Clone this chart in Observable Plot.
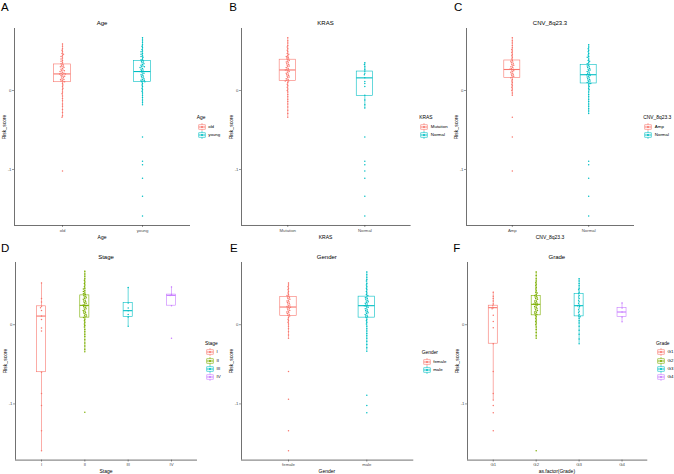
<!DOCTYPE html>
<html><head><meta charset="utf-8">
<script src="https://cdn.jsdelivr.net/npm/d3@7"></script>
<script src="https://cdn.jsdelivr.net/npm/@observablehq/plot@0.6"></script>
<style>
body{margin:0;background:#fff;}
#fig{position:relative;width:674px;height:474px;overflow:hidden;font-family:"Liberation Sans",Arial,sans-serif;background:#fff;}
.t{position:absolute;white-space:nowrap;line-height:1;color:#000;}
.p{position:absolute;}
</style></head><body><div id="fig"></div>
<script>
// ---------- colours ----------
const hue2 = ["#F8766D", "#00BFC4"];
const hue4 = ["#F8766D", "#7CAE00", "#00BFC4", "#C77CFF"];
const yTicks = [-1, 0];

// ---------- A: Age ----------
const ageCats = ["old", "young"];
const ageOld = [0.59,0.56,0.53,0.51,0.49,0.47,0.46,0.44,0.43,0.41,0.40,0.38,0.37,0.35,0.34,
  0.33,0.32,0.31,0.30,0.30,0.29,0.28,0.27,0.26,0.25,0.25,0.24,0.23,0.22,0.22,0.21,0.21,0.20,0.19,0.18,0.18,0.17,0.16,0.15,0.14,0.14,0.13,0.12,0.11,0.11,
  0.09,0.07,0.05,0.03,0.01,-0.02,-0.04,-0.07,-0.10,-0.13,-0.17,-0.20,-0.24,-0.28,-0.32,-0.34,-1.02];
const ageYoung = [0.667,0.64,0.61,0.58,0.56,0.54,0.52,0.50,0.49,0.47,0.46,0.44,0.43,0.42,0.40,0.39,0.38,
  0.37,0.36,0.35,0.34,0.33,0.32,0.31,0.30,0.30,0.29,0.28,0.27,0.26,0.25,0.24,0.24,0.23,0.22,0.21,0.20,0.19,0.18,0.17,0.16,0.15,0.14,0.13,0.13,0.12,0.11,0.11,
  0.09,0.07,0.05,0.03,0.01,-0.01,-0.03,-0.06,-0.09,-0.12,-0.15,-0.18,
  -0.59,-0.895,-0.94,-1.11,-1.34,-1.59];
const ageQ1 = [0.105, 0.11], ageMed = [0.21, 0.24], ageQ3 = [0.33, 0.375], ageLo = [-0.34, -0.18], ageHi = [0.59, 0.667];

// ---------- B: KRAS ----------
const krasCats = ["Mutation", "Normal"];
const krasMut = [0.667,0.63,0.60,0.57,0.55,0.53,0.51,0.49,0.47,0.46,0.44,0.43,0.42,0.41,0.40,
  0.39,0.38,0.37,0.36,0.35,0.34,0.33,0.32,0.31,0.30,0.29,0.28,0.27,0.26,0.26,0.25,0.24,0.23,0.22,0.21,0.20,0.19,0.18,0.17,0.16,0.15,0.14,0.13,0.12,0.12,
  0.10,0.08,0.06,0.04,0.02,0.00,-0.02,-0.05,-0.08,-0.11,-0.14,-0.17,-0.21,-0.25,-0.29,-0.34];
const krasNorm = [0.35,0.33,0.30,0.27,0.245,0.22,0.20,0.16,0.115,0.09,0.05,-0.06,-0.12,-0.18,-0.22,
  -0.59,-0.895,-0.94,-1.02,-1.11,-1.34,-1.59];
const krasQ1 = [0.12, -0.07], krasMed = [0.26, 0.16], krasQ3 = [0.39, 0.24], krasLo = [-0.34, -0.23], krasHi = [0.667, 0.35];

// ---------- C: CNV_8q23.3 ----------
const cnvCats = ["Amp", "Normal"];
const cnvAmp = [0.667,0.63,0.60,0.57,0.54,0.52,0.50,0.48,0.46,0.44,0.42,0.40,
  0.38,0.37,0.36,0.35,0.34,0.33,0.32,0.31,0.30,0.29,0.28,0.27,0.27,0.26,0.25,0.24,0.23,0.22,0.21,0.20,0.19,0.18,0.17,0.16,
  0.14,0.12,0.10,0.08,0.06,0.04,0.02,0.00,-0.03,-0.06,-0.34,-0.59,-1.02];
const cnvNorm = [0.58,0.55,0.53,0.51,0.49,0.47,0.45,0.43,0.42,0.40,0.38,0.37,0.35,0.34,
  0.32,0.31,0.30,0.29,0.28,0.27,0.26,0.25,0.24,0.23,0.22,0.21,0.20,0.20,0.19,0.18,0.17,0.16,0.15,0.14,0.13,0.12,0.11,0.10,0.09,0.09,
  0.07,0.05,0.03,0.01,-0.02,-0.05,-0.08,-0.11,-0.14,-0.17,-0.20,-0.23,-0.26,-0.29,
  -0.895,-0.94,-1.11,-1.34,-1.59];
const cnvQ1 = [0.156, 0.089], cnvMed = [0.266, 0.20], cnvQ3 = [0.38, 0.325], cnvLo = [-0.063, -0.29], cnvHi = [0.667, 0.58];

// ---------- D: Stage ----------
const stageCats = ["I", "II", "III", "IV"];
const stageI = [0.527,0.33,0.286,0.232,0.215,0.18,0.109,0.067,-0.043,-0.08,-0.60,-0.87,-1.02,-1.34,-1.59];
const stageII = [0.675,0.64,0.61,0.58,0.56,0.54,0.52,0.50,0.48,0.46,0.45,0.43,0.42,0.40,0.39,0.38,
  0.37,0.36,0.35,0.34,0.33,0.32,0.31,0.30,0.29,0.28,0.27,0.26,0.25,0.24,0.24,0.23,0.22,0.21,0.20,0.19,0.18,0.17,0.16,0.15,0.14,0.13,0.12,0.11,0.10,0.09,
  0.07,0.05,0.03,0.01,-0.01,-0.03,-0.06,-0.09,-0.12,-0.15,-0.19,-0.23,-0.27,-0.31,-0.34,-1.106];
const stageIII = [0.468,0.273,0.21,0.177,0.13,0.097,-0.02];
const stageIV = [0.476,0.38,0.37,0.24,-0.17];
const stageQ1 = [-0.60, 0.089, 0.097, 0.24], stageMed = [0.109, 0.244, 0.177, 0.37], stageQ3 = [0.232, 0.37, 0.273, 0.38];
const stageLo = [-1.59, -0.34, -0.02, 0.24], stageHi = [0.527, 0.675, 0.468, 0.476];

// ---------- E: Gender ----------
const genderCats = ["female", "male"];
const genderF = [0.527,0.50,0.48,0.46,0.44,0.42,0.40,0.38,0.37,0.36,
  0.35,0.34,0.33,0.32,0.31,0.30,0.29,0.28,0.27,0.26,0.25,0.24,0.23,0.22,0.22,0.21,0.20,0.19,0.18,0.17,0.16,0.15,0.14,0.13,0.12,0.11,
  0.09,0.07,0.05,0.03,0.01,-0.02,-0.05,-0.09,-0.13,-0.17,-0.59,-0.94,-1.34,-1.59];
const genderM = [0.666,0.63,0.60,0.57,0.55,0.52,0.50,0.48,0.46,0.44,0.42,0.40,0.38,0.37,
  0.35,0.34,0.33,0.32,0.31,0.30,0.29,0.28,0.27,0.26,0.25,0.24,0.24,0.23,0.22,0.21,0.20,0.19,0.18,0.17,0.16,0.15,0.14,0.13,0.12,0.11,0.10,0.09,
  0.07,0.05,0.03,0.01,-0.02,-0.05,-0.08,-0.11,-0.14,-0.17,-0.21,-0.25,-0.29,-0.334,-0.89,-1.02,-1.11];
const genderQ1 = [0.109, 0.089], genderMed = [0.223, 0.24], genderQ3 = [0.35, 0.354], genderLo = [-0.17, -0.334], genderHi = [0.527, 0.666];

// ---------- F: Grade ----------
const gradeCats = ["G1", "G2", "G3", "G4"];
const gradeG1 = [0.41,0.36,0.33,0.30,0.26,0.24,0.215,0.20,0.12,0.04,-0.04,-0.24,-0.59,-0.87,-0.95,-1.02,-1.11,-1.34];
const gradeG2 = [0.666,0.62,0.58,0.55,0.53,0.51,0.49,0.47,0.45,0.43,0.41,0.40,0.38,0.37,
  0.36,0.35,0.34,0.33,0.32,0.31,0.30,0.29,0.28,0.27,0.26,0.26,0.25,0.24,0.23,0.22,0.21,0.20,0.19,0.18,0.17,0.16,0.15,0.14,0.13,0.12,
  0.10,0.08,0.06,0.04,0.02,0.00,-0.03,-0.06,-0.10,-0.14,-0.17,-1.59];
const gradeG3 = [0.58,0.55,0.52,0.49,0.46,0.44,0.41,0.39,0.37,0.35,0.33,0.31,0.29,0.27,0.25,0.24,0.23,0.21,0.19,0.17,0.15,0.13,0.11,0.10,0.08,0.05,0.02,-0.02,-0.07,-0.12,-0.18,-0.24];
const gradeG4 = [0.273,0.21,0.16,0.096,0.038];
const gradeQ1 = [-0.24, 0.118, 0.105, 0.096], gradeMed = [0.215, 0.257, 0.24, 0.16], gradeQ3 = [0.24, 0.363, 0.39, 0.21];
const gradeLo = [-0.95, -0.17, -0.24, 0.038], gradeHi = [0.41, 0.666, 0.58, 0.273];

// ---------- layout ----------
const yDomain = [-1.709, 0.785];
const panels = [
  {letter:"A", lx:1, ly:7.9, title:"Age", xTitle:"Age", cats:ageCats, groups:[ageOld, ageYoung], q1:ageQ1, med:ageMed, q3:ageQ3, lo:ageLo, hi:ageHi, colors:hue2,
   x0:14, x1:190, y0:28, y1:225, legX:196.7, legTitleY:117.7, legRowY:[126.8, 135]},
  {letter:"B", lx:229.3, ly:7.9, title:"KRAS", xTitle:"KRAS", cats:krasCats, groups:[krasMut, krasNorm], q1:krasQ1, med:krasMed, q3:krasQ3, lo:krasLo, hi:krasHi, colors:hue2,
   x0:240.7, x1:410.3, y0:28, y1:225, legX:419.3, legTitleY:117.7, legRowY:[126.8, 135]},
  {letter:"C", lx:454, ly:7.9, title:"CNV_8q23.3", xTitle:"CNV_8q23.3", cats:cnvCats, groups:[cnvAmp, cnvNorm], q1:cnvQ1, med:cnvMed, q3:cnvQ3, lo:cnvLo, hi:cnvHi, colors:hue2,
   x0:466, x1:634, y0:28, y1:225, legX:643.3, legTitleY:117.7, legRowY:[126.8, 135]},
  {letter:"D", lx:1, ly:249.2, title:"Stage", xTitle:"Stage", cats:stageCats, groups:[stageI, stageII, stageIII, stageIV], q1:stageQ1, med:stageMed, q3:stageQ3, lo:stageLo, hi:stageHi, colors:hue4,
   x0:15, x1:197, y0:261.7, y1:459.3, legX:205, legTitleY:344.3, legRowY:[352.3, 360.5, 368.6, 376.7]},
  {letter:"E", lx:230, ly:249.2, title:"Gender", xTitle:"Gender", cats:genderCats, groups:[genderF, genderM], q1:genderQ1, med:genderMed, q3:genderQ3, lo:genderLo, hi:genderHi, colors:hue2,
   x0:240.7, x1:413, y0:261.7, y1:459.3, legX:421.7, legTitleY:352.7, legRowY:[361.5, 369.5]},
  {letter:"F", lx:453.3, ly:249.2, title:"Grade", xTitle:"as.factor(Grade)", cats:gradeCats, groups:[gradeG1, gradeG2, gradeG3, gradeG4], q1:gradeQ1, med:gradeMed, q3:gradeQ3, lo:gradeLo, hi:gradeHi, colors:hue4,
   x0:466.7, x1:647, y0:261.7, y1:459.3, legX:656, legTitleY:344.3, legRowY:[352.3, 360.5, 368.6, 376.7]}
];

const fig = document.getElementById("fig");
function txt(s, x, y, size, opts = {}) {
  const d = document.createElement("div");
  d.className = "t";
  d.textContent = s;
  d.style.left = x + "px";
  d.style.top = y + "px";
  d.style.fontSize = size + "px";
  d.style.transform = opts.transform || (opts.center ? "translate(-50%,-50%)" : "translate(0,-50%)");
  if (opts.color) d.style.color = opts.color;
  fig.appendChild(d);
}
function keyGlyph(color, x, y) {
  const ns = "http://www.w3.org/2000/svg";
  const s = document.createElementNS(ns, "svg");
  s.setAttribute("width", 8); s.setAttribute("height", 8);
  s.style.position = "absolute"; s.style.left = x + "px"; s.style.top = (y - 4) + "px";
  s.innerHTML = `<line x1="4" x2="4" y1="0" y2="8" stroke="${color}" stroke-width="0.6"/>
    <rect x="0.8" y="1.8" width="6.4" height="4.4" fill="white" stroke="${color}" stroke-width="0.6"/>
    <line x1="0.8" x2="7.2" y1="4" y2="4" stroke="${color}" stroke-width="0.9"/>
    <circle cx="4" cy="4" r="1" fill="${color}"/>`;
  fig.appendChild(s);
}

const mL = 16, mR = 2, mT = 2, mB = 16;
for (const p of panels) {
  const n = p.cats.length;
  const W = p.x1 - p.x0, H = p.y1 - p.y0;
  const xs = d3.scaleLinear([0.4, n + 0.6], [0, W]);
  const idx = d3.range(1, n + 1);
  const boxes = idx.map((i, k) => ({i, q1: p.q1[k], med: p.med[k], q3: p.q3[k], lo: p.lo[k], hi: p.hi[k], c: p.colors[k]}));
  const hw = 0.105;
  const marks = [
    Plot.ruleX(boxes, {x: "i", y1: "lo", y2: "q1", stroke: "c", strokeWidth: 0.6}),
    Plot.ruleX(boxes, {x: "i", y1: "q3", y2: "hi", stroke: "c", strokeWidth: 0.6}),
    Plot.rect(boxes, {x1: d => d.i - hw, x2: d => d.i + hw, y1: "q1", y2: "q3", fill: "white", stroke: "c", strokeWidth: 0.6}),
    Plot.ruleY(boxes, {x1: d => d.i - hw, x2: d => d.i + hw, y: "med", stroke: "c", strokeWidth: 1.1})
  ];
  p.groups.forEach((vals, k) => {
    marks.push(Plot.dot(vals, Plot.dodgeX({anchor: "middle", padding: 0.15},
      {y: d => d, r: 0.75, fill: p.colors[k], stroke: "none", dx: xs(k + 1) - W / 2})));
  });
  marks.push(
    Plot.ruleX([0.4], {stroke: "#333", strokeWidth: 0.7}),
    Plot.ruleY([yDomain[0]], {stroke: "#333", strokeWidth: 0.7}),
    Plot.axisY({ticks: yTicks, tickFormat: d => String(d), tickSize: 2, tickPadding: 1, fontSize: 4.3, label: null, stroke: "#333", strokeWidth: 0.5, fill: "#4d4d4d"}),
    Plot.axisX({ticks: idx, tickFormat: i => p.cats[i - 1], tickSize: 2, tickPadding: 1.2, fontSize: 4.3, label: null, stroke: "#333", strokeWidth: 0.5, fill: "#4d4d4d"})
  );
  const chart = Plot.plot({
    width: W + mL + mR, height: H + mT + mB,
    marginLeft: mL, marginRight: mR, marginTop: mT, marginBottom: mB,
    x: {domain: [0.4, n + 0.6]},
    y: {domain: yDomain},
    style: {fontFamily: "Liberation Sans, Arial, sans-serif", fontSize: "4.3px", background: "transparent", overflow: "visible", color: "#333"},
    marks
  });
  chart.classList.add("p");
  chart.style.left = (p.x0 - mL) + "px";
  chart.style.top = (p.y0 - mT) + "px";
  fig.appendChild(chart);

  const cx = (p.x0 + p.x1) / 2;
  const top = p.y0 < 100;
  txt(p.letter, p.lx, p.ly, 11.5);
  txt(p.title, cx, top ? 22.8 : 256.5, 6, {center: true});
  txt(p.xTitle, cx, top ? 236.6 : 470.8, 5, {center: true});
  txt("Risk_score", p.x0 - 10, (p.y0 + p.y1) / 2, 5, {transform: "translate(-50%,-50%) rotate(-90deg)"});
  // legend
  txt(p.title, p.legX, p.legTitleY, 4.9);
  p.cats.forEach((c, k) => {
    keyGlyph(p.colors[k], p.legX + 1, p.legRowY[k]);
    txt(c, p.legX + 11.5, p.legRowY[k], 4.4);
  });
}
</script></body></html>
